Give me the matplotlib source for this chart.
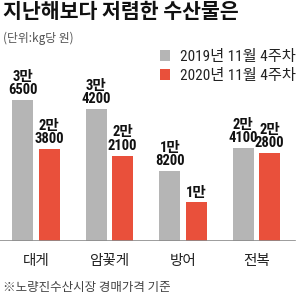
import matplotlib
matplotlib.use('Agg')
import matplotlib.pyplot as plt
import matplotlib.font_manager as fm
import numpy as np

plt.rcParams['font.family'] = ['Noto Sans CJK KR', 'DejaVu Sans']

# buscar una fuente angosta para los numeros
instaladas = set(f.name for f in fm.fontManager.ttflist)
angosta = None
for nombre in ['Roboto Condensed', 'Liberation Sans Narrow', 'Sofia Sans Condensed',
               'Asap Condensed', 'Saira SemiCondensed']:
    if nombre in instaladas:
        angosta = nombre
        break
if angosta:
    fam_num = [angosta, 'Noto Sans CJK KR', 'DejaVu Sans']
    tam_num = 10.5
else:
    fam_num = ['Noto Sans CJK KR', 'DejaVu Sans']
    tam_num = 9

# datos
categorias = ['대게', '암꽃게', '방어', '전복']
precio_2019 = [36500, 34200, 18200, 24100]
precio_2020 = [23800, 22100, 10000, 22800]
serie_2019 = '2019년 11월 4주차'
serie_2020 = '2020년 11월 4주차'

gris = '#b5b5b5'
rojo = '#e9503b'

def etiqueta(v):
    man = v // 10000
    resto = v % 10000
    if resto == 0:
        return f'{man}만'
    return f'{man}만\n{resto}'

fig = plt.figure(figsize=(3.0, 3.05), dpi=100)
ax = fig.add_axes([0, 64/305, 1, 177/305])

x = np.arange(len(categorias))
ancho = 0.29
desp = 0.18
b1 = ax.bar(x - desp, precio_2019, ancho, color=gris, label=serie_2019)
b2 = ax.bar(x + desp, precio_2020, ancho, color=rojo, label=serie_2020)

# etiquetas sobre las barras
for barras in (b1, b2):
    for b in barras:
        v = int(b.get_height())
        ax.annotate(etiqueta(v), (b.get_x() + b.get_width()/2, v),
                    xytext=(0, 2), textcoords='offset points',
                    ha='center', va='bottom', fontsize=tam_num, fontweight='bold',
                    linespacing=0.95, color='#111111', family=fam_num)

ax.set_xlim(-0.49, 3.592)
ax.set_ylim(0, 45855)
ax.axhline(0, xmin=0, xmax=295/300, color='#8c8c8c', lw=1.2)
for s in ax.spines.values():
    s.set_visible(False)
ax.set_yticks([])
ax.set_xticks(x)
ax.set_xticklabels(categorias, fontsize=10.5, color='#222222')
ax.tick_params(axis='x', length=0, pad=9)
ax.patch.set_alpha(0)

# titulo y notas
fig.text(3/300, 1 - 12/305, '지난해보다 저렴한 수산물은', fontsize=14.8,
         fontweight='bold', va='center', ha='left', color='#111111')
fig.text(3/300, 1 - 38/305, '(단위:kg당 원)', fontsize=8.5,
         va='center', ha='left', color='#555555')
fig.text(3/300, 1 - 288/305, '※노량진수산시장 경매가격 기준', fontsize=9,
         va='center', ha='left', color='#444444')

fig.legend(handles=[b1, b2], loc='upper left',
           bbox_to_anchor=(152/300, 1 - 42/305), frameon=False,
           prop={'family': fam_num, 'size': 11 if angosta else 9.5},
           handlelength=0.7, handleheight=0.7,
           handletextpad=0.6, labelspacing=0.35, borderpad=0,
           labelcolor='#222222')

plt.savefig('out.png', dpi=100)
